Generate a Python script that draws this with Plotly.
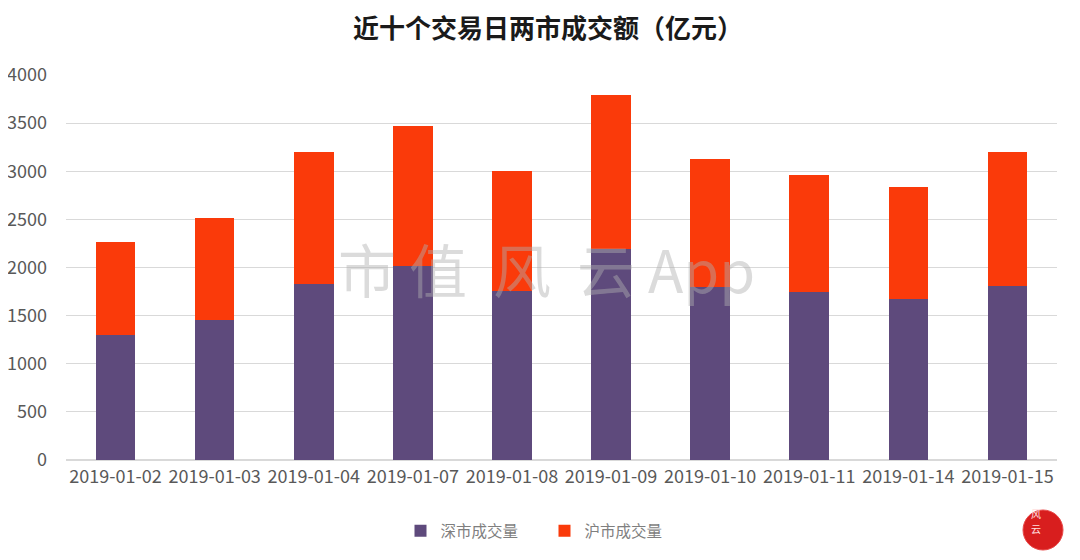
import plotly.graph_objects as go

dates = ["2019-01-02", "2019-01-03", "2019-01-04", "2019-01-07", "2019-01-08",
         "2019-01-09", "2019-01-10", "2019-01-11", "2019-01-14", "2019-01-15"]
shenzhen = [1299, 1455, 1829, 2016, 1756, 2192, 1797, 1745, 1673, 1808]
shanghai = [966, 1059, 1371, 1454, 1247, 1600, 1330, 1216, 1163, 1392]
y_ticks = [0, 500, 1000, 1500, 2000, 2500, 3000, 3500, 4000]

FONT = "Noto Sans CJK SC"

fig = go.Figure()
fig.add_trace(go.Bar(x=dates, y=shenzhen, name="深市成交量",
                     marker=dict(color="#5e4a7c", line=dict(width=0))))
fig.add_trace(go.Bar(x=dates, y=shanghai, name="沪市成交量",
                     marker=dict(color="#fa3a0a", line=dict(width=0))))

fig.update_layout(
    barmode="stack",
    bargap=0.6,
    width=1080, height=560,
    paper_bgcolor="white", plot_bgcolor="white",
    margin=dict(l=58, r=31, t=67, b=108),
    font=dict(family=FONT, color="#595959"),
    title=dict(text="<b>近十个交易日两市成交额（亿元）</b>", x=0.5, xanchor="center",
               y=(560 - 21) / 560, yanchor="middle",
               font=dict(family=FONT, size=26, color="#1a1a1a")),
    legend=dict(orientation="h", x=(544.5 - 66) / 991, xanchor="center", y=-0.185, yanchor="middle",
                font=dict(size=15.5, color="#7f7f7f"), traceorder="normal",
                itemwidth=30, entrywidth=99, entrywidthmode="pixels"),
    xaxis=dict(type="category", tickfont=dict(size=18, color="#595959"),
               showline=True, linecolor="#d9d9d9", ticks="", automargin=False),
    yaxis=dict(range=[0, 4000], tickvals=y_ticks, tickfont=dict(size=18, color="#595959"),
               showgrid=True, gridcolor="#d9d9d9", zeroline=True, zerolinecolor="#d9d9d9",
               ticklabelstandoff=18, automargin=False),
)

fig.add_annotation(text="市 值  风  云 App", xref="paper", yref="paper", x=0.485, y=0.5,
                   showarrow=False, font=dict(family=FONT, size=58, color="rgba(175,175,175,0.45)"))

fig.add_shape(type="circle", xref="paper", yref="paper",
              x0=(1023 - 66) / 991, x1=(1063 - 66) / 991,
              y0=(460 - 550) / 385, y1=(460 - 510) / 385,
              fillcolor="#d81e1e", line=dict(color="#e84a4a", width=1))
fig.add_annotation(text="风", xref="paper", yref="paper",
                   x=(1043 - 66) / 991, y=(460 - 523) / 385, showarrow=False,
                   font=dict(family=FONT, size=10, color="#ffe0e0"))
fig.add_annotation(text="云", xref="paper", yref="paper",
                   x=(1043 - 66) / 991, y=(460 - 538) / 385, showarrow=False,
                   font=dict(family=FONT, size=10, color="#ffe0e0"))

fig.write_html("out.html")
